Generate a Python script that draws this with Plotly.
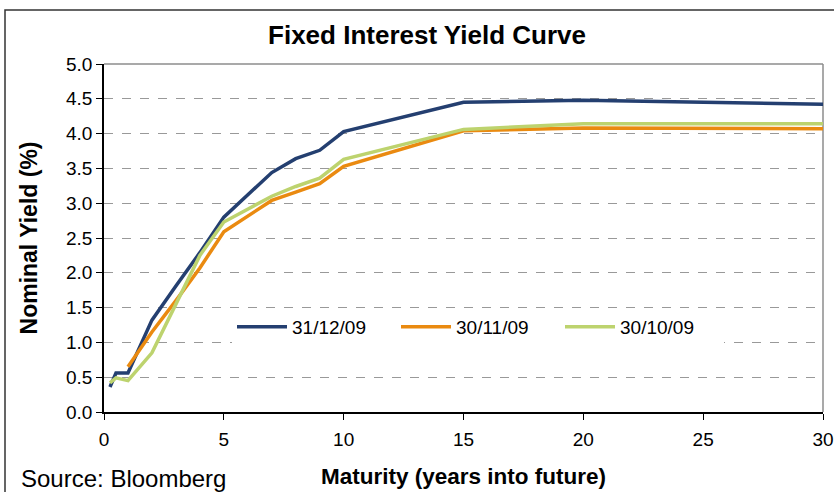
import plotly.graph_objects as go

maturity = [0.25, 0.5, 1, 2, 3, 4, 5, 7, 8, 9, 10, 15, 20, 30]
yield_311209 = [0.36, 0.56, 0.56, 1.32, 1.81, 2.29, 2.80, 3.44, 3.64, 3.76, 4.03, 4.45, 4.48, 4.42]
yield_301109 = [None, None, 0.65, 1.15, 1.60, 2.07, 2.59, 3.04, 3.16, 3.28, 3.53, 4.04, 4.08, 4.07]
yield_301009 = [0.42, 0.49, 0.45, 0.85, 1.55, 2.25, 2.73, 3.10, 3.24, 3.36, 3.63, 4.06, 4.14, 4.14]

series = [
    ("31/12/09", yield_311209, "#243F70"),
    ("30/11/09", yield_301109, "#EA8A10"),
    ("30/10/09", yield_301009, "#BDD36E"),
]

x_ticks = [0, 5, 10, 15, 20, 25, 30]
y_ticks = [0, 0.5, 1, 1.5, 2, 2.5, 3, 3.5, 4, 4.5, 5]
y_tick_text = ["%.1f" % v for v in y_ticks]

FONT = "Liberation Sans, Arial, sans-serif"

fig = go.Figure()
for name, vals, col in series:
    fig.add_trace(go.Scatter(x=maturity, y=vals, mode="lines", name=name,
                             line=dict(color=col, width=3.5), connectgaps=False))

W, H = 834, 492
L, R, T, B = 104, 11, 64, 80
pw, ph = W - L - R, H - T - B

def px2paper_x(px):
    return (px - L) / pw

def px2paper_y(py):
    return (H - B - py) / ph

fig.update_layout(
    width=W, height=H,
    margin=dict(l=L, r=R, t=T, b=B, autoexpand=False),
    paper_bgcolor="white", plot_bgcolor="white",
    font=dict(family=FONT, color="black", size=18),
    title=dict(text="<b>Fixed Interest Yield Curve</b>", x=427 / W, xanchor="center",
               y=1 - 35 / H, yanchor="middle", font=dict(size=26, family=FONT)),
    showlegend=True,
    legend=dict(orientation="h", x=px2paper_x(232), y=px2paper_y(327), xanchor="left",
                yanchor="middle", bgcolor="white", font=dict(size=19, family=FONT),
                entrywidth=99, entrywidthmode="pixels", itemwidth=50,
                tracegroupgap=0),
    xaxis=dict(range=[0, 30], tickvals=x_ticks, ticks="outside", ticklen=6,
               tickcolor="black", showline=True, linecolor="black", linewidth=1.5,
               showgrid=False, zeroline=False, tickfont=dict(size=19), automargin=False,
               ticklabelstandoff=3,
               title=dict(text="<b>Maturity (years into future)</b>", font=dict(size=22.5),
                          standoff=20)),
    yaxis=dict(range=[0, 5], tickvals=y_ticks, ticktext=y_tick_text, ticks="outside",
               ticklen=6, tickcolor="black", showline=True, linecolor="black",
               linewidth=1.5, showgrid=True, gridcolor="#999999", griddash="dash",
               gridwidth=1, zeroline=False, tickfont=dict(size=19), automargin=False,
               title=dict(text="<b>Nominal Yield (%)</b>", font=dict(size=23),
                          standoff=22)),
    shapes=[
        dict(type="rect", xref="paper", yref="paper", x0=px2paper_x(232), x1=px2paper_x(790),
             y0=px2paper_y(347), y1=px2paper_y(308), fillcolor="white",
             line=dict(width=0), layer="between"),
        dict(type="line", xref="paper", yref="paper", x0=0, x1=1, y0=1, y1=1,
             line=dict(color="#8c8c8c", width=1.5), layer="below"),
        dict(type="line", xref="paper", yref="paper", x0=1, x1=1, y0=0, y1=1,
             line=dict(color="#8c8c8c", width=1.5), layer="below"),
        dict(type="rect", xref="paper", yref="paper", x0=px2paper_x(5), x1=px2paper_x(900),
             y0=px2paper_y(560), y1=px2paper_y(10), line=dict(color="#333333", width=1.5),
             layer="below"),
    ],
    annotations=[
        dict(text="Source: Bloomberg", xref="paper", yref="paper", x=px2paper_x(19),
             y=px2paper_y(478), xanchor="left", yanchor="middle", showarrow=False,
             font=dict(size=24, family=FONT)),
    ],
)

fig.write_html("out.html")
